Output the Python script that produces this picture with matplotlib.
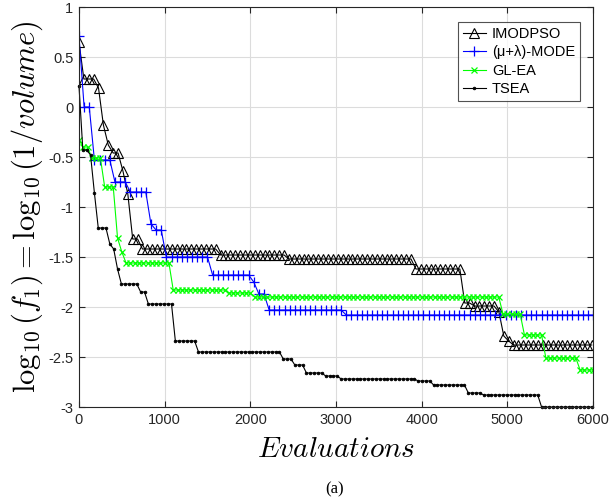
import numpy as np
import matplotlib
matplotlib.use("Agg")
import matplotlib.pyplot as plt

plt.rcParams["font.family"] = ["Liberation Sans", "DejaVu Sans"]
plt.rcParams["mathtext.fontset"] = "cm"

# Level changes of the best value found so far: (evaluation where level starts, log10 value)
imodpso_bp = [0, 40, 220, 280, 335, 390, 500, 560, 620, 735, 1640, 2395, 3920,
              4460, 4615, 4885, 4940, 4990, 5045]
imodpso_val = [0.65, 0.28, 0.19, -0.18, -0.38, -0.46, -0.64, -0.87, -1.32, -1.42,
               -1.48, -1.52, -1.62, -1.96, -1.99, -2.05, -2.29, -2.34, -2.38]

mode_bp = [0, 30, 165, 390, 590, 820, 880, 1010, 1525, 2010, 2080, 2200, 3080]
mode_val = [0.71, 0.0, -0.53, -0.75, -0.85, -1.17, -1.23, -1.50, -1.68, -1.75,
            -1.87, -2.03, -2.08]

glea_bp = [0, 50, 150, 290, 420, 470, 510, 1060, 1720, 2010, 4950, 5200, 5430, 5840]
glea_val = [-0.33, -0.40, -0.51, -0.80, -1.31, -1.45, -1.56, -1.83, -1.86, -1.90,
            -2.07, -2.28, -2.51, -2.63]

tsea_bp = [0, 40, 100, 170, 220, 350, 385, 415, 460, 690, 770, 1120, 1360, 2350,
           2490, 2650, 2840, 3050, 3920, 4120, 4540, 4720, 5360]
tsea_val = [0.21, -0.43, -0.48, -0.86, -1.21, -1.37, -1.42, -1.62, -1.77, -1.85,
            -1.97, -2.34, -2.45, -2.52, -2.58, -2.66, -2.69, -2.72, -2.74, -2.78,
            -2.86, -2.88, -3.0]

# Evaluations consumed per generation by each algorithm
gen_step = {"IMODPSO": 57, "MODE": 60, "GLEA": 50, "TSEA": 45}

x_ticks = [0, 1000, 2000, 3000, 4000, 5000, 6000]
x_ticklabels = ["0", "1000", "2000", "3000", "4000", "5000", "6000"]
y_ticks = [-3, -2.5, -2, -1.5, -1, -0.5, 0, 0.5, 1]
y_ticklabels = ["-3", "-2.5", "-2", "-1.5", "-1", "-0.5", "0", "0.5", "1"]


def history(step, bp, vals, end=6000):
    """Best-so-far value recorded once per generation."""
    ev = np.arange(0, end + 1, step)
    idx = np.searchsorted(bp, ev, side="right") - 1
    return ev, np.asarray(vals)[idx]


fig = plt.figure(figsize=(6.09, 5.01), dpi=100)
ax = fig.add_axes([0.1297, 0.1876, 0.8440, 0.7984])

lw = 0.8
ex, ey = history(gen_step["IMODPSO"], imodpso_bp, imodpso_val)
ax.plot(ex, ey, color="k", lw=lw, marker="^", ms=7, mfc="none", mec="k",
        mew=0.8, label="IMODPSO")
ex, ey = history(gen_step["MODE"], mode_bp, mode_val)
ax.plot(ex, ey, color="#0000ff", lw=lw, marker="+", ms=7, mew=0.9,
        label="(\u03bc+\u03bb)-MODE")
ex, ey = history(gen_step["GLEA"], glea_bp, glea_val)
ax.plot(ex, ey, color="#00ff00", lw=lw, marker="x", ms=5, mew=0.9,
        label="GL-EA")
ex, ey = history(gen_step["TSEA"], tsea_bp, tsea_val)
ax.plot(ex, ey, color="k", lw=lw, marker="o", ms=2, mew=0.5,
        label="TSEA", clip_on=False)

ax.set_xlim(0, 6000)
ax.set_ylim(-3, 1)
ax.set_xticks(x_ticks)
ax.set_xticklabels(x_ticklabels)
ax.set_yticks(y_ticks)
ax.set_yticklabels(y_ticklabels)
ax.grid(True, color="#dcdcdc", lw=0.8)
ax.set_axisbelow(True)
ax.tick_params(direction="in", length=4, width=0.8, top=True, right=True,
               labelsize=10.5, colors="#262626", pad=4)
for s in ax.spines.values():
    s.set_color("#262626")
    s.set_linewidth(0.8)

ax.set_xlabel(r"$Evaluations$", fontsize=21, labelpad=6)
ax.set_ylabel(r"$\log_{10}(f_1)=\log_{10}(1/volume)$", fontsize=22, labelpad=2)

leg = ax.legend(loc="upper right", bbox_to_anchor=(0.975, 0.9625), fontsize=10.5,
                fancybox=False, frameon=True, edgecolor="#262626",
                handlelength=1.6, handletextpad=0.4, labelspacing=0.3,
                borderpad=0.35, borderaxespad=0.0, numpoints=1)
leg.get_frame().set_linewidth(0.8)

fig.text(0.55, 0.008, "(a)", ha="center", va="bottom", fontsize=12,
         family="Liberation Serif")

fig.savefig("out.png", dpi=100)
